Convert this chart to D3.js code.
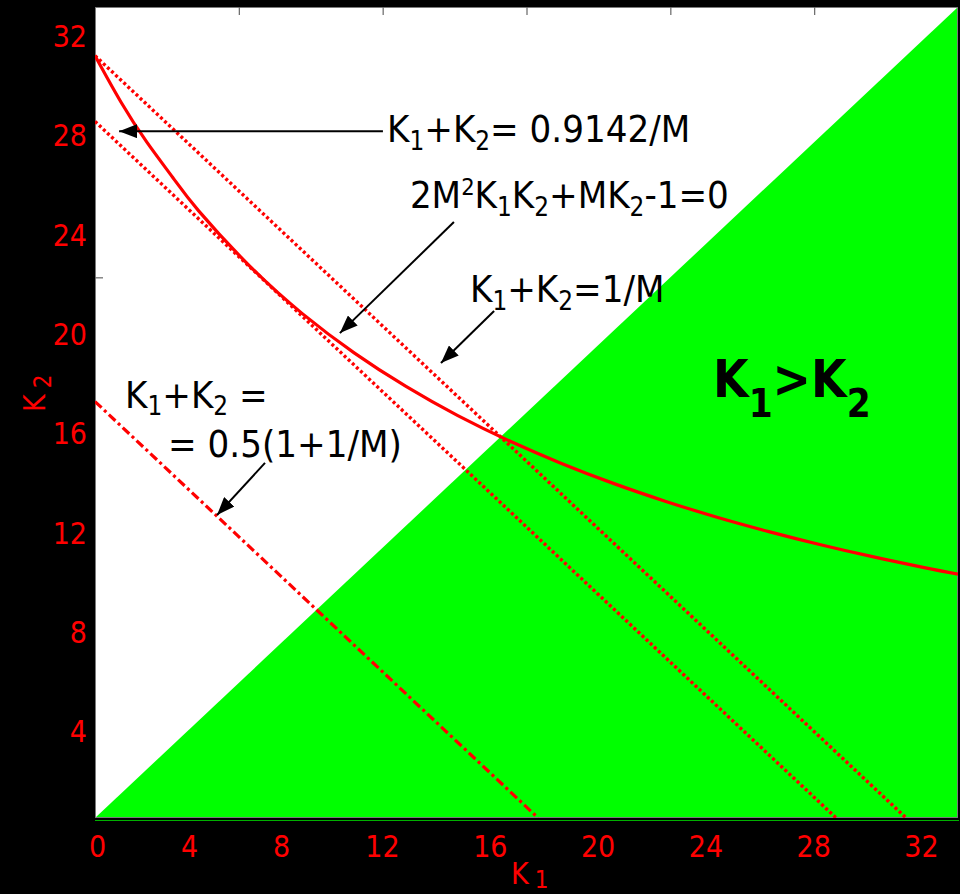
<!DOCTYPE html>
<html>
<head>
<meta charset="utf-8">
<script src="https://cdn.jsdelivr.net/npm/d3@7"></script>
<style>
  html, body { margin: 0; padding: 0; background: #000; }
  svg { display: block; }
</style>
</head>
<body>
<div id="chart"></div>
<script>
// ---------------- data ----------------
const X_MAX = 33.3;
const Y_MAX = 33.3;

// curve 2M^2 K1 K2 + M K2 - 1 = 0
const curveK1 = [0, 1, 2, 3, 4, 6, 8, 10, 12, 14, 16, 18, 20, 22, 24, 26, 28, 30, 32, 33.3];
const curveK2 = [31.3, 29.4, 27.75, 26.3, 24.93, 22.63, 20.71, 19.10, 17.72, 16.52, 15.48, 14.56, 13.74, 13.01, 12.35, 11.76, 11.22, 10.73, 10.28, 10.01];

// straight lines K1 + K2 = const (intercepts)
const lineNames = ["1/M", "0.9142/M", "0.5(1+1/M)"];
const lineIntercepts = [31.3, 28.6, 17.1];
const lineKinds = ["dotted", "dotted", "dashdot"];

// tick labels
const xTickLabels = [0, 4, 8, 12, 16, 20, 24, 28, 32];
const yTickLabels = [4, 8, 12, 16, 20, 24, 28, 32];
// small visible tick marks of the underlying axes
const topTicks = [5.55, 11.1, 16.65, 22.2, 27.75];
const leftTicks = [22.2];

// ---------------- layout ----------------
const W = 960, H = 894;
const plot = { left: 95, right: 958, top: 7, bottom: 818 };

const svg = d3.select("#chart").append("svg")
  .attr("width", W).attr("height", H)
  .style("background", "#000");

const x = d3.scaleLinear().domain([0, X_MAX]).range([plot.left, plot.right]);
const y = d3.scaleLinear().domain([0, Y_MAX]).range([plot.bottom, plot.top]);

// label scales (labels are placed as in the picture)
const xLab = d3.scaleLinear().domain([0, 8, 12, 32]).range([97, 281, 382, 921]);
const yLab = d3.scaleLinear().domain([4, 32]).range([732, 37]);

const FONT = "'DejaVu Sans Condensed', 'DejaVu Sans', Verdana, sans-serif";

svg.append("defs").append("clipPath").attr("id", "clip")
  .append("rect")
  .attr("x", plot.left).attr("y", plot.top)
  .attr("width", plot.right - plot.left).attr("height", plot.bottom - plot.top);

// plot background
svg.append("rect")
  .attr("x", plot.left).attr("y", plot.top)
  .attr("width", plot.right - plot.left).attr("height", plot.bottom - plot.top)
  .attr("fill", "#fff");

// green region K1 > K2
svg.append("path")
  .attr("d", d3.line()([[x(0), y(0)], [x(X_MAX), y(0)], [x(X_MAX), y(Y_MAX)]]) + "Z")
  .attr("fill", "#00ff00");

// border
svg.append("rect")
  .attr("x", plot.left + 0.5).attr("y", plot.top + 0.5)
  .attr("width", plot.right - plot.left - 1).attr("height", plot.bottom - plot.top - 1)
  .attr("fill", "none").attr("stroke", "#7a7a7a").attr("stroke-width", 1);

// thin green line below the bottom edge
svg.append("rect")
  .attr("x", plot.left).attr("y", plot.bottom + 2)
  .attr("width", plot.right - plot.left + 1).attr("height", 1)
  .attr("fill", "#00b000");

// small tick marks
const topAxis = svg.append("g").attr("transform", `translate(0,${plot.top})`)
  .call(d3.axisBottom(x).tickValues(topTicks).tickSize(8).tickFormat(""));
topAxis.select(".domain").remove();
topAxis.selectAll("line").attr("stroke", "#666").attr("stroke-width", 1.2);

const leftAxis = svg.append("g").attr("transform", `translate(${plot.left},0)`)
  .call(d3.axisRight(y).tickValues(leftTicks).tickSize(8).tickFormat(""));
leftAxis.select(".domain").remove();
leftAxis.selectAll("line").attr("stroke", "#666").attr("stroke-width", 1.2);

// tick labels
const xAxis = svg.append("g").attr("transform", "translate(0,836)")
  .call(d3.axisBottom(xLab).tickValues(xTickLabels).tickSize(0).tickPadding(0).tickFormat(d3.format("d")));
xAxis.select(".domain").remove();
xAxis.selectAll("text").attr("fill", "#ff0000").style("font-family", FONT).style("font-size", "30px");

const yAxis = svg.append("g").attr("transform", "translate(87,0)")
  .call(d3.axisLeft(yLab).tickValues(yTickLabels).tickSize(0).tickPadding(0).tickFormat(d3.format("d")));
yAxis.select(".domain").remove();
yAxis.selectAll("text").attr("fill", "#ff0000").style("font-family", FONT).style("font-size", "30px");

// ---------------- marks ----------------
const gMarks = svg.append("g").attr("clip-path", "url(#clip)");

lineIntercepts.forEach((c, i) => {
  const pts = [[0, c], [c, 0]];
  const p = gMarks.append("path")
    .attr("d", d3.line().x(d => x(d[0])).y(d => y(d[1]))(pts))
    .attr("fill", "none").attr("stroke", "#ff0000");
  if (lineKinds[i] === "dotted") {
    p.attr("stroke-width", 3.4).attr("stroke-dasharray", "3,2.6");
  } else {
    p.attr("stroke-width", 3.2).attr("stroke-dasharray", "9,3.5,3,3.5");
  }
});

const curvePts = curveK1.map((k, i) => [k, curveK2[i]]);
gMarks.append("path")
  .attr("d", d3.line().x(d => x(d[0])).y(d => y(d[1])).curve(d3.curveNatural)(curvePts))
  .attr("fill", "none").attr("stroke", "#ff0000").attr("stroke-width", 3.2);

// ---------------- annotations ----------------
const defs = svg.select("defs");
defs.append("marker").attr("id", "ah")
  .attr("markerUnits", "userSpaceOnUse")
  .attr("viewBox", "0 0 18 14").attr("refX", 18).attr("refY", 7)
  .attr("markerWidth", 18).attr("markerHeight", 14)
  .attr("orient", "auto")
  .append("path").attr("d", "M0,0 L18,7 L0,14 Z").attr("fill", "#000");

const arrows = [
  { from: [11.11, 28.2], to: [0.93, 28.2] },
  { from: [13.85, 24.47], to: [9.45, 19.91] },
  { from: [15.40, 20.82], to: [13.35, 18.68] },
  { from: [6.56, 14.58], to: [4.71, 12.44] }
];
arrows.forEach(a => {
  svg.append("line")
    .attr("x1", x(a.from[0])).attr("y1", y(a.from[1]))
    .attr("x2", x(a.to[0])).attr("y2", y(a.to[1]))
    .attr("stroke", "#000").attr("stroke-width", 2)
    .attr("marker-end", "url(#ah)");
});

function richText(parent, px, py, parts, size, opts = {}) {
  const t = parent.append("text")
    .attr("x", px).attr("y", py)
    .attr("fill", opts.fill || "#000")
    .style("font-family", FONT)
    .style("font-size", size + "px")
    .style("font-weight", opts.bold ? "bold" : "normal");
  let shift = 0;
  parts.forEach(p => {
    const ts = t.append("tspan").text(p.t);
    let target = 0;
    let fs = size;
    if (p.sub) { target = size * (opts.subShift || 0.2); fs = size * (opts.subScale || 0.68); }
    if (p.sup) { target = -size * 0.33; fs = size * 0.62; }
    ts.attr("dy", target - shift).style("font-size", fs + "px");
    if (p.dx) ts.attr("dx", p.dx);
    shift = target;
  });
  return t;
}

const annSize = 38;
richText(svg, x(11.27), y(27.76), [{ t: "K" }, { t: "1", sub: true }, { t: "+K" }, { t: "2", sub: true }, { t: "= 0.9142/M" }], annSize);
richText(svg, x(12.15), y(25.05), [{ t: "2M" }, { t: "2", sup: true }, { t: "K" }, { t: "1", sub: true }, { t: "K" }, { t: "2", sub: true }, { t: "+MK" }, { t: "2", sub: true }, { t: "-1=0" }], annSize);
richText(svg, x(14.47), y(21.19), [{ t: "K" }, { t: "1", sub: true }, { t: "+K" }, { t: "2", sub: true }, { t: "=1/M" }], annSize);
richText(svg, x(1.16), y(16.84), [{ t: "K" }, { t: "1", sub: true }, { t: "+K" }, { t: "2", sub: true }, { t: " =" }], annSize);
richText(svg, x(2.82), y(14.82), [{ t: "= 0.5(1+1/M)" }], annSize);
richText(svg, x(23.85), y(17.29), [{ t: "K" }, { t: "1", sub: true }, { t: ">K" }, { t: "2", sub: true }], 51, { bold: true, subShift: 0.4, subScale: 0.75 });

// axis titles
richText(svg, 511, 884, [{ t: "K" }, { t: "1", sub: true, dx: 6 }], 30, { fill: "#ff0000", subShift: 0.12, subScale: 0.8 });
const yt = svg.append("g").attr("transform", "translate(45,412) rotate(-90)");
richText(yt, 0, 0, [{ t: "K" }, { t: "2", sub: true, dx: 6 }], 30, { fill: "#ff0000", subShift: 0.2, subScale: 0.8 });
</script>
</body>
</html>
